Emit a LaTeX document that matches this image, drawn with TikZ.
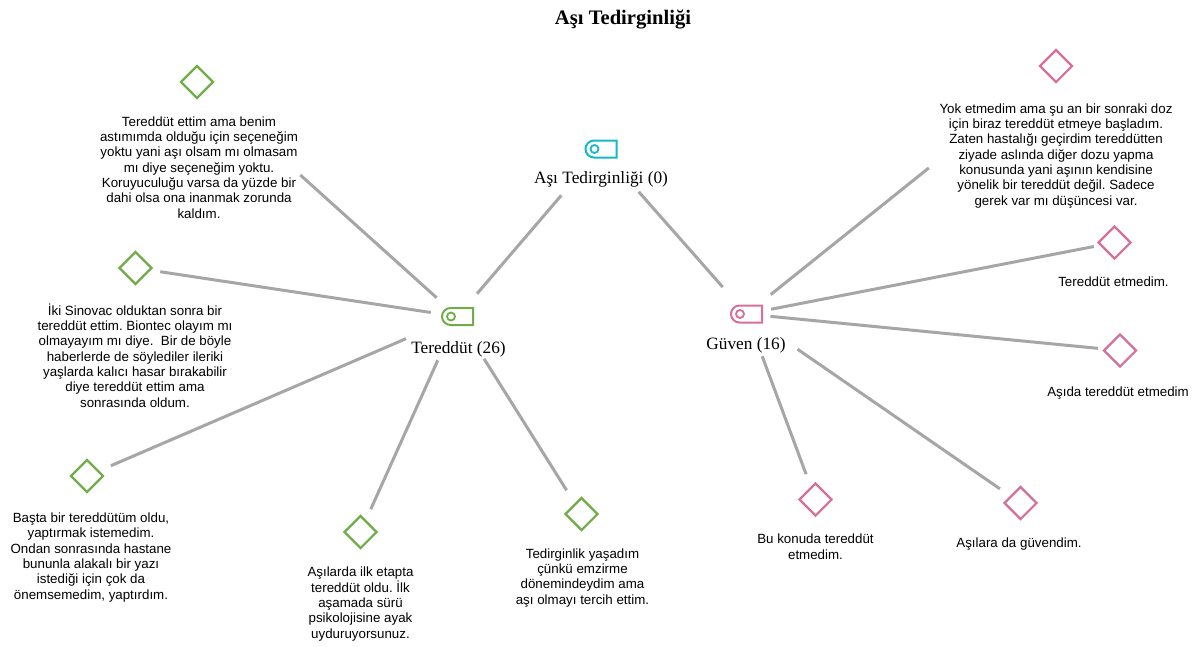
\documentclass[tikz,border=0pt]{standalone}
\usepackage{fontspec}
\setmainfont{Liberation Serif}
\newfontfamily\arialf{Liberation Sans}
\usetikzlibrary{shapes.geometric,shapes.misc}
\definecolor{cgreen}{RGB}{112,173,71}
\definecolor{cpink}{RGB}{214,112,155}
\definecolor{ccyan}{RGB}{23,184,200}
\definecolor{cgray}{RGB}{166,166,166}
\frenchspacing
\begin{document}
\begin{tikzpicture}[x=1pt,y=-1pt,
  tagbox/.style={draw, line width=2pt, rounded rectangle, rounded rectangle right arc=none, minimum width=31pt, minimum height=17pt, inner sep=0pt},
  leaf/.style={draw, diamond, line width=2.2pt, minimum width=33pt, minimum height=33pt, inner sep=0pt, aspect=1},
  txt/.style={font=\arialf\fontsize{13.33}{15.3}\selectfont\frenchspacing, align=center, anchor=base, inner sep=0pt},
  lbl/.style={font=\fontsize{17.3}{20}\selectfont, anchor=base, inner sep=0pt},
  edge/.style={draw=cgray, line width=3pt}]
\fill[white] (0,0) rectangle (1199,646);
\useasboundingbox (0,0) rectangle (1199,646);

\node[font=\bfseries\fontsize{20.6}{24}\selectfont, anchor=base, inner sep=0pt] (title) at (623,24) {Aşı Tedirginliği};

% tags
\node[tagbox, draw=ccyan] (R) at (601,149) {};
\draw[ccyan, line width=1.8pt] ([xshift=10pt]R.west) circle (4pt);
\node[lbl] (Rl) at (601,183) {Aşı Tedirginliği (0)};

\node[tagbox, draw=cgreen] (T) at (457.5,316.5) {};
\draw[cgreen, line width=1.8pt] ([xshift=10pt]T.west) circle (4pt);
\node[lbl] (Tl) at (458.5,353) {Tereddüt (26)};

\node[tagbox, draw=cpink] (G) at (746.5,314) {};
\draw[cpink, line width=1.8pt] ([xshift=10pt]G.west) circle (4pt);
\node[lbl] (Gl) at (746,349) {Güven (16)};

% green leaves (text nodes anchored at the baseline of their last line)
\node[leaf, draw=cgreen] (d1) at (197,82) {};
\node[txt] (d1t) at (199,218) {Tereddüt ettim ama benim\\astımımda olduğu için seçeneğim\\yoktu yani aşı olsam mı olmasam\\mı diye seçeneğim yoktu.\\Koruyuculuğu varsa da yüzde bir\\dahi olsa ona inanmak zorunda\\kaldım.};

\node[leaf, draw=cgreen] (d2) at (135.5,268) {};
\node[txt] (d2t) at (135,407) {İki Sinovac olduktan sonra bir\\tereddüt ettim. Biontec olayım mı\\olmayayım mı diye.\ \ Bir de böyle\\haberlerde de söylediler ileriki\\yaşlarda kalıcı hasar bırakabilir\\diye tereddüt ettim ama\\sonrasında oldum.};

\node[leaf, draw=cgreen] (d3) at (87,476) {};
\node[txt] (d3t) at (91,599) {Başta bir tereddütüm oldu,\\yaptırmak istemedim.\\Ondan sonrasında hastane\\bununla alakalı bir yazı\\istediği için çok da\\önemsemedim, yaptırdım.};

\node[leaf, draw=cgreen] (d4) at (360.5,532) {};
\node[txt] (d4t) at (360.5,638) {Aşılarda ilk etapta\\tereddüt oldu. İlk\\aşamada sürü\\psikolojisine ayak\\uyduruyorsunuz.};

\node[leaf, draw=cgreen] (d5) at (581.5,514) {};
\node[txt] (d5t) at (582.5,604) {Tedirginlik yaşadım\\çünkü emzirme\\dönemindeydim ama\\aşı olmayı tercih ettim.};

% pink leaves
\node[leaf, draw=cpink] (p1) at (1056,66) {};
\node[txt] (p1t) at (1056,205) {Yok etmedim ama şu an bir sonraki doz\\için biraz tereddüt etmeye başladım.\\Zaten hastalığı geçirdim tereddütten\\ziyade aslında diğer dozu yapma\\konusunda yani aşının kendisine\\yönelik bir tereddüt değil. Sadece\\gerek var mı düşüncesi var.};

\node[leaf, draw=cpink] (p2) at (1114.5,242.5) {};
\node[txt] (p2t) at (1113.5,286) {Tereddüt etmedim.};

\node[leaf, draw=cpink] (p3) at (1120,350.5) {};
\node[txt] (p3t) at (1118,396) {Aşıda tereddüt etmedim};

\node[leaf, draw=cpink] (p4) at (815.5,499.5) {};
\node[txt] (p4t) at (815.5,559) {Bu konuda tereddüt\\etmedim.};

\node[leaf, draw=cpink] (p5) at (1020.5,503) {};
\node[txt] (p5t) at (1019,547) {Aşılara da güvendim.};

% edges
\draw[edge, shorten <=61pt, shorten >=30pt] (R.center) -- (T.center);
\draw[edge, shorten <=57pt, shorten >=36pt] (R.center) -- (G.center);

\draw[edge, shorten <=28pt, shorten >=139pt] (T.center) -- (d1.center);
\draw[edge, shorten <=27pt, shorten >=25pt] (T.center) -- (d2.center);
\draw[edge, shorten <=56pt, shorten >=26pt] (T.center) -- (d3.center);
\draw[edge, shorten <=48pt, shorten >=25pt] (T.center) -- (d4.center);
\draw[edge, shorten <=50pt, shorten >=28pt] (T.center) -- (d5.center);

\draw[edge, shorten <=31pt, shorten >=163pt] (G.center) -- (p1.center);
\draw[edge, shorten <=25pt, shorten >=21pt] (G.center) -- (p2.center);
\draw[edge, shorten <=24pt, shorten >=22pt] (G.center) -- (p3.center);
\draw[edge, shorten <=45pt, shorten >=27pt] (G.center) -- (p4.center);
\draw[edge, shorten <=62pt, shorten >=25pt] (G.center) -- (p5.center);
\end{tikzpicture}
\end{document}
